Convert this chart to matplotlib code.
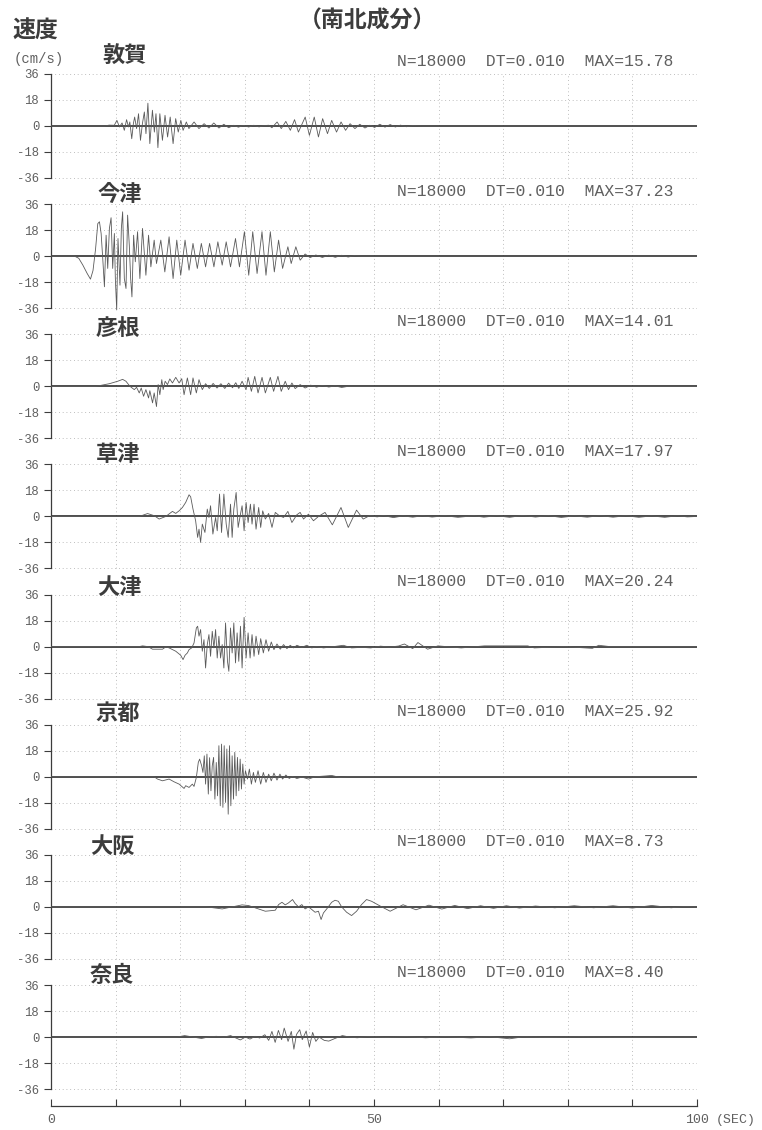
import matplotlib

matplotlib.use("Agg")
import matplotlib.pyplot as plt

W_PX, H_PX = 762, 1130

CJK_FONT = ["Noto Sans CJK JP", "DejaVu Sans"]
MONO_FONT = "Liberation Mono"
INK = "#3c3c3c"
TEXT_GREY = "#606060"

stations = ["敦賀", "今津", "彦根", "草津", "大津", "京都", "大阪", "奈良"]
max_values = ["15.78", "37.23", "14.01", "17.97", "20.24", "25.92", "8.73", "8.40"]
y_ticks = [-36, -18, 0, 18, 36]
x_ticks = list(range(0, 101, 10))
x_tick_labels = ["0", "", "", "", "", "50", "", "", "", "", "100"]

# velocity records, (time s, velocity cm/s) picked off the traces
tsuruga = [
    (0, 0), (8.3, 0), (9.0, 0.6), (9.8, 0.5), (10.2, 3.9), (10.6, -0.7), (11.0, 2.1),
    (11.35, -3.0), (11.7, 4.4), (12.0, -0.7), (12.2, 2.8), (12.5, -8.8), (12.75, 1.6),
    (12.95, 6.2), (13.25, -1.8), (13.55, 8.5), (13.85, -9.9), (14.15, 1.6), (14.45, 9.7),
    (14.7, -5.3), (15.0, 15.78), (15.3, -12.2), (15.7, 10.9), (16.0, -4.2), (16.25, 8.5),
    (16.55, -15.0), (16.85, 8.5), (17.25, -9.9), (17.65, 7.4), (18.05, -7.6), (18.45, 6.2),
    (18.9, -12.2), (19.3, 5.1), (19.7, -4.2), (20.1, 3.9), (20.45, -3.0), (20.95, 2.8),
    (21.35, -1.8), (22.15, 2.8), (22.9, -1.8), (23.7, 1.6), (24.45, -1.4), (25.2, 2.1),
    (26.0, -1.4), (26.75, 1.2), (27.5, -1.2), (28.3, 0.5), (29.0, -0.8), (29.8, 0.4),
    (30.6, -0.7), (31.4, 0.5), (32.2, -0.6), (33.0, 0.3), (33.7, 0.5), (34.2, -1.2),
    (35.0, 2.8), (35.65, -1.8), (36.35, 3.2), (37.05, -3.0), (37.7, 4.4), (38.3, -4.2),
    (39.35, 6.2), (40.0, -6.5), (40.75, 6.2), (41.4, -7.6), (42.05, 5.1), (42.8, -5.3),
    (43.45, 3.9), (44.2, -4.2), (44.9, 2.8), (45.6, -3.0), (46.3, 1.6), (47.05, -1.8),
    (47.8, 1.2), (48.6, -1.4), (49.35, 0.5), (50.1, -1.0), (50.9, 1.2), (51.7, -0.8),
    (52.5, 1.0), (53.3, -0.7), (54.1, 0.6), (55.0, -0.5), (56.0, 0.3), (57.5, 0), (100, 0),
]
imazu = [
    (0, 0), (3.65, 0), (4.3, -1.5), (4.93, -6.2), (5.6, -12.0), (6.11, -15.9), (6.5, -10.0),
    (6.9, 5.0), (7.24, 22.5), (7.5, 23.8), (7.76, 15.7), (8.01, -1.6), (8.27, -21.2),
    (8.53, 14.5), (8.78, -8.5), (9.04, 19.2), (9.3, 26.6), (9.55, -8.5), (9.81, 15.7),
    (9.96, -15.5), (10.17, -37.23), (10.37, 12.2), (10.68, -20.1), (10.89, 19.2),
    (11.09, 30.7), (11.35, -15.5), (11.61, -22.4), (11.86, 28.4), (12.12, 7.6),
    (12.33, -15.5), (12.53, -28.2), (12.79, 14.5), (13.05, -3.9), (13.4, 16.9),
    (13.76, -15.5), (14.17, 19.2), (14.69, -13.2), (15.1, 14.5), (15.46, -7.4),
    (15.97, 11.1), (16.33, -5.1), (17.0, 11.1), (17.62, -10.9), (18.28, 13.4),
    (18.9, -15.5), (19.47, 11.1), (20.08, -13.2), (20.75, 11.1), (21.37, -9.7),
    (21.98, 8.8), (22.65, -8.5), (23.27, 8.8), (23.93, -7.4), (24.55, 8.8), (25.22, -7.4),
    (25.83, 9.9), (26.5, -6.2), (27.12, 9.9), (27.79, -7.4), (28.56, 12.2), (29.17, -7.4),
    (29.94, 16.9), (30.61, -13.2), (31.23, 16.9), (31.9, -12.0), (32.66, 16.9),
    (33.28, -13.2), (33.95, 16.9), (34.57, -10.9), (35.23, 11.1), (35.85, -8.5),
    (36.67, 6.5), (37.18, -5.1), (37.9, 6.5), (38.57, -2.8), (39.34, 1.5), (40.1, -1.0),
    (41.0, 0.8), (42.0, -0.9), (43.0, 0.7), (44.0, -0.8), (45.0, 0.6), (46.0, -0.6),
    (47.0, 0.4), (48.1, 0), (100, 0),
]
hikone = [
    (0, 0), (6.98, 0), (9.04, 1.8), (10.33, 3.5), (11.09, 4.8), (11.6, 3.5), (12.22, 0),
    (12.89, -2.3), (13.25, -0.7), (13.66, -4.6), (13.97, -1.2), (14.33, -6.9),
    (14.69, -2.3), (15.1, -8.1), (15.3, -3.0), (15.72, -11.5), (15.97, -4.6),
    (16.33, -14.01), (16.59, 1.2), (16.85, -5.8), (17.15, 4.6), (17.36, -2.3),
    (17.67, 3.5), (18.03, 1.2), (18.39, 5.1), (18.8, 2.3), (19.31, 6.2), (19.83, 2.3),
    (20.24, 5.3), (20.6, -5.8), (21.11, 5.8), (21.62, -5.8), (21.98, 5.8), (22.5, -4.6),
    (22.91, 4.6), (23.42, -2.3), (23.93, 1.8), (24.5, -1.5), (25.1, 2.0), (25.7, -1.2),
    (26.3, 1.8), (26.9, -1.5), (27.5, 2.2), (28.1, -1.0), (28.6, 2.5), (29.07, -1.5),
    (29.58, 3.5), (30.2, -2.3), (30.51, 6.2), (31.02, -3.5), (31.54, 6.9), (32.05, -4.6),
    (32.67, 6.2), (33.18, -4.6), (33.95, 6.2), (34.46, -3.5), (35.13, 6.9), (35.64, -3.5),
    (36.26, 3.5), (36.77, -2.3), (37.29, 2.3), (37.8, -1.6), (38.57, 1.2), (39.34, -1.2),
    (40.2, 0.8), (41.1, -0.6), (42.0, 0.6), (43.0, -0.5), (44.0, 0.3), (45.0, -0.8),
    (46.0, 0), (100, 0),
]
kusatsu = [
    (0, 0), (13.66, 0), (14.95, 2.0), (16.0, 0.5), (16.74, -1.8), (17.77, 0), (18.8, 3.5),
    (19.31, 2.1), (19.83, 3.9), (20.34, 6.2), (20.85, 9.7), (21.37, 15.0), (21.62, 13.6),
    (21.98, 5.1), (22.39, -3.0), (22.7, -14.5), (22.91, -8.8), (23.16, -17.97),
    (23.42, -5.3), (23.83, -11.1), (24.19, 5.1), (24.45, -0.7), (24.7, 7.4),
    (25.06, -12.2), (25.48, -0.7), (25.73, -9.9), (26.09, 15.5), (26.4, -11.1),
    (26.76, 15.5), (27.12, -5.3), (27.43, -14.5), (27.79, 8.5), (28.04, -14.5),
    (28.3, 5.1), (28.66, 16.6), (28.97, -7.6), (29.33, 1.6), (29.58, 7.4), (29.89, -9.9),
    (30.2, 9.7), (30.51, -4.2), (30.87, 8.5), (31.12, -5.3), (31.43, 8.5), (31.74, -8.8),
    (32.15, 6.2), (32.46, -7.6), (32.77, 3.9), (33.18, -1.8), (33.69, 2.1), (34.21, -7.6),
    (34.72, 2.8), (35.34, 0.5), (36.0, -0.7), (36.67, 3.5), (37.29, -4.2), (38.06, 1.2),
    (38.57, 2.8), (39.09, -1.8), (39.86, 1.6), (40.63, -3.0), (41.4, 0), (42.42, 2.8),
    (43.55, -5.8), (44.89, 6.2), (46.02, -7.6), (47.3, 4.4), (48.33, -1.8), (49.3, 0.5),
    (50.5, -0.3), (51.5, 0.6), (53.0, -0.8), (54.5, 0.4), (56.0, -0.5), (57.5, 0.5),
    (59.0, -0.4), (61.0, 0.5), (63.0, -0.6), (65.5, 0.5), (67.0, -0.5), (69.0, 0.5),
    (71.0, -0.6), (73.0, 0.7), (75.0, -0.4), (77.0, 0.6), (79.0, -0.7), (81.0, 0.4),
    (83.0, -0.5), (85.0, 0.6), (87.0, -0.5), (89.0, 0.5), (91.0, -0.6), (93.0, 0.4),
    (95.0, -0.6), (97.0, 0.5), (98.5, -0.3), (100, 0),
]
otsu = [
    (0, 0), (13.66, 0), (14.17, 0.5), (15.0, 0), (15.72, -1.8), (17.26, -1.8),
    (17.77, -0.2), (18.28, -0.9), (19.31, -3.2), (20.08, -6.0), (20.44, -9.0),
    (20.75, -6.0), (21.11, -4.4), (21.37, -2.1), (21.78, -0.9), (22.14, 2.5),
    (22.5, 12.9), (22.7, 14.1), (22.91, 7.2), (23.16, 11.8), (23.42, -3.2), (23.68, 4.8),
    (23.93, -14.8), (24.19, 1.4), (24.45, 8.3), (24.7, -6.7), (24.96, 10.6),
    (25.22, -0.9), (25.48, 11.8), (25.73, -7.9), (25.99, 7.2), (26.25, -7.9),
    (26.5, 1.4), (26.76, -14.8), (27.02, 16.4), (27.32, -10.2), (27.53, -17.1),
    (27.79, 12.9), (28.04, -4.4), (28.3, 16.4), (28.56, -11.3), (28.81, 9.5),
    (29.07, -10.2), (29.33, 14.1), (29.58, -14.8), (29.89, 20.24), (30.2, -7.9),
    (30.51, 9.5), (30.82, -7.9), (31.12, 8.3), (31.43, -6.7), (31.74, 7.2), (32.15, -5.5),
    (32.46, 5.5), (32.87, -4.4), (33.28, 4.8), (33.69, -3.2), (34.1, 3.2), (34.51, -2.1),
    (34.98, 1.8), (35.49, -1.8), (36.0, 1.4), (36.52, -1.4), (37.03, 0.9), (37.54, -0.9),
    (38.06, 0.9), (38.83, -0.5), (39.6, 0.9), (40.37, -0.9), (41.14, 0), (42.17, -0.9),
    (43.45, -0.2), (45.25, 0.9), (46.53, -0.9), (48.07, -0.5), (49.5, -0.9), (51.0, 0.3),
    (52.5, -0.3), (53.8, 0.4), (54.7, 1.8), (56.0, -1.4), (56.8, 2.8), (58.3, -1.8),
    (59.9, 0.5), (63.5, -0.9), (67.1, 0.5), (73.8, 0.5), (74.8, -0.9), (79.4, 0),
    (83.8, -1.2), (84.8, 0.9), (86.5, 0), (100, 0),
]
kyoto = [
    (0, 0), (15.97, 0), (16.49, -1.6), (17.26, -2.8), (18.28, -1.6), (19.05, -3.5),
    (19.83, -5.1), (20.6, -8.1), (20.85, -6.2), (21.37, -7.4), (21.88, -5.1),
    (22.14, -6.7), (22.5, -0.5), (22.8, 9.9), (23.01, 12.2), (23.32, 7.6), (23.52, 3.0),
    (23.73, 14.5), (23.93, -5.1), (24.14, 15.7), (24.35, -12.0), (24.55, 13.2),
    (24.76, -9.7), (24.96, 7.6), (25.17, 13.4), (25.37, -15.5), (25.58, 9.9),
    (25.78, -13.2), (25.99, 21.5), (26.2, -20.1), (26.4, 22.6), (26.61, -21.2),
    (26.81, 21.5), (27.02, -17.8), (27.22, 19.2), (27.43, -25.92), (27.63, 21.5),
    (27.84, -20.1), (28.04, 14.5), (28.25, -15.5), (28.45, 16.9), (28.66, -13.2),
    (28.86, 13.4), (29.07, -9.7), (29.28, 12.2), (29.48, -8.5), (29.69, 8.8),
    (29.89, -5.1), (30.1, 4.2), (30.41, -1.6), (30.71, 5.3), (31.02, -5.1), (31.33, 3.0),
    (31.64, -3.9), (32.05, 4.2), (32.46, -5.1), (32.87, 3.0), (33.28, -3.9), (33.69, 1.8),
    (34.1, -2.8), (34.51, 2.5), (34.98, -2.3), (35.44, 1.8), (35.85, -1.6), (36.36, 1.2),
    (36.88, -1.2), (37.39, 0.2), (38.06, -1.2), (38.83, -0.2), (39.86, -1.6), (40.88, 0),
    (42.42, 0.5), (43.45, 0.9), (44.74, -0.5), (46.02, 0), (100, 0),
]
osaka = [
    (0, 0), (23.93, 0), (24.96, -0.5), (26.5, -1.4), (28.04, 0), (29.58, 1.4),
    (30.61, 0.9), (31.64, -0.7), (33.18, -3.0), (34.72, -2.3), (35.23, 1.6), (35.75, 3.2),
    (36.26, 1.4), (36.77, 2.8), (37.39, 5.1), (37.8, 2.3), (38.32, 0), (38.83, 1.6),
    (39.34, -1.4), (39.86, 0), (40.37, -1.8), (40.88, -3.7), (41.4, -3.0), (41.81, -8.73),
    (42.17, -4.2), (42.68, -1.4), (43.45, 3.2), (43.96, 4.6), (44.48, 3.9), (44.99, 0),
    (45.76, -3.7), (46.53, -6.0), (47.3, -3.0), (48.07, 1.6), (48.85, 5.1), (49.62, 3.9),
    (51.0, 0.5), (52.5, -3.0), (54.5, 1.5), (56.5, -2.0), (58.5, 1.2), (60.5, -1.5),
    (62.5, 1.0), (64.5, -1.2), (66.5, 0.8), (68.5, -1.0), (70.5, 0.8), (72.5, -0.8),
    (75.0, 0.6), (78.0, -0.6), (81.0, 0.8), (84.0, -0.6), (87.0, 0.8), (90.0, -0.8),
    (93.0, 1.0), (96.0, -0.6), (98.0, 0.3), (100, 0),
]
nara = [
    (0, 0), (19.5, 0), (20.7, 1.0), (22.0, 0), (23.3, -1.0), (24.5, 0.2), (25.6, 0.5),
    (26.8, 0), (27.8, 1.0), (29.3, -2.0), (30.1, 0), (30.8, -1.4), (31.6, 0.5),
    (32.3, -0.7), (33.1, 1.6), (33.7, -2.3), (34.2, 3.9), (34.7, -3.7), (35.2, 4.6),
    (35.7, -1.8), (36.1, 6.2), (36.7, -3.0), (37.2, 3.9), (37.6, -8.40), (38.0, 1.8),
    (38.5, 5.1), (38.9, -1.8), (39.5, 4.2), (40.0, -6.9), (40.5, 3.2), (41.0, -3.0),
    (41.5, 0), (42.3, -2.3), (43.0, -2.8), (44.0, -0.9), (45.1, 1.0), (46.2, 0),
    (47.4, -0.5), (49.0, 0.3), (52.0, -0.3), (55.0, 0.3), (58.0, -0.5), (61.0, 0.2),
    (65.0, -0.6), (68.0, 0.2), (71.0, -1.2), (73.0, 0.1), (77.0, -0.3), (82.0, 0.2),
    (88.0, -0.3), (100, 0),
]
records = [tsuruga, imazu, hikone, kusatsu, otsu, kyoto, osaka, nara]

# panel layout in pixels: left edge (t=0), right edge (t=100), top of the +36 line
AX_LEFT, AX_RIGHT = 51, 697
PANEL_TOP0, PANEL_STEP, PANEL_SPAN = 74, 130.15, 104
NAME_X = [102, 97, 96, 96, 97, 95, 90, 90]
NAME_RISE = [19, 10, 6, 10, 7, 11, 8, 10]


def fx(px):
    return px / W_PX


def fy(py):
    return 1 - py / H_PX


def draw_panel(fig, idx):
    top = PANEL_TOP0 + idx * PANEL_STEP
    px_per_unit = PANEL_SPAN / 72.0
    lim = 38.0
    bottom = top + 36 * px_per_unit + lim * px_per_unit
    height = 2 * lim * px_per_unit
    ax = fig.add_axes([fx(AX_LEFT), fy(bottom), fx(AX_RIGHT - AX_LEFT), height / H_PX])
    ax.set_facecolor("none")

    t = [p[0] for p in records[idx]]
    v = [p[1] for p in records[idx]]
    ax.axhline(0, color="#2e2e2e", lw=1.2, zorder=2)
    ax.plot(t, v, color="#5a5a5a", lw=0.6, zorder=3)

    ax.set_xlim(0, 100)
    ax.set_ylim(-lim, lim)
    for side in ["top", "right", "bottom"]:
        ax.spines[side].set_visible(False)
    ax.spines["left"].set_bounds(-36, 36)
    ax.spines["left"].set_color(INK)
    ax.spines["left"].set_linewidth(0.9)

    ax.set_xticks(x_ticks)
    ax.tick_params(axis="x", length=0, labelbottom=False)
    ax.set_yticks(y_ticks)
    ax.set_yticklabels([str(y) for y in y_ticks])
    ax.tick_params(axis="y", direction="out", length=5, width=0.8, color=INK,
                   labelsize=8.8, labelcolor=TEXT_GREY, pad=3.5)
    for lab in ax.get_yticklabels():
        lab.set_fontfamily(MONO_FONT)

    # dotted reference grid, the zero line is already drawn solid
    for gx in x_ticks[1:]:
        ax.plot([gx, gx], [-36, 36], color="#a8a8a8", lw=0.6, ls=(0, (1, 3.5)), zorder=1)
    for gy in [-36, -18, 18, 36]:
        ax.plot([0, 100], [gy, gy], color="#a8a8a8", lw=0.6, ls=(0, (1, 3.5)), zorder=1)

    fig.text(fx(NAME_X[idx]), fy(top - NAME_RISE[idx]), stations[idx],
             family=CJK_FONT, fontsize=16, fontweight="bold", color=INK,
             ha="left", va="center")
    info = "N=18000  DT=0.010  MAX=" + max_values[idx]
    fig.text(fx(397), fy(top - 13), info, family=MONO_FONT, fontsize=11.8,
             color=TEXT_GREY, ha="left", va="center")


def draw_time_axis(fig):
    ax = fig.add_axes([fx(AX_LEFT), fy(1106), fx(AX_RIGHT - AX_LEFT), 0.001])
    ax.set_facecolor("none")
    ax.set_xlim(0, 100)
    ax.set_yticks([])
    for side in ["top", "right", "left"]:
        ax.spines[side].set_visible(False)
    ax.spines["bottom"].set_color(INK)
    ax.spines["bottom"].set_linewidth(0.9)
    ax.set_xticks(x_ticks)
    ax.set_xticklabels(x_tick_labels, family=MONO_FONT)
    ax.tick_params(axis="x", direction="in", length=5, width=0.8, color=INK,
                   labelsize=9.5, labelcolor=TEXT_GREY, pad=6)
    fig.text(fx(716), fy(1120), "(SEC)", family=MONO_FONT, fontsize=9.5,
             color=TEXT_GREY, ha="left", va="center")


def main():
    fig = plt.figure(figsize=(W_PX / 100, H_PX / 100), dpi=100)
    fig.patch.set_facecolor("white")

    fig.text(fx(12), fy(31), "速度", family=CJK_FONT, fontsize=16.5,
             fontweight="bold", color=INK, ha="left", va="center")
    fig.text(fx(14), fy(59), "(cm/s)", family=MONO_FONT, fontsize=10,
             color=TEXT_GREY, ha="left", va="center")
    fig.text(fx(367), fy(21), "（南北成分）", family=CJK_FONT, fontsize=16.5,
             fontweight="bold", color=INK, ha="center", va="center")

    for idx in range(len(stations)):
        draw_panel(fig, idx)
    draw_time_axis(fig)

    fig.savefig("out.png", dpi=100, facecolor="white")


if __name__ == "__main__":
    main()
